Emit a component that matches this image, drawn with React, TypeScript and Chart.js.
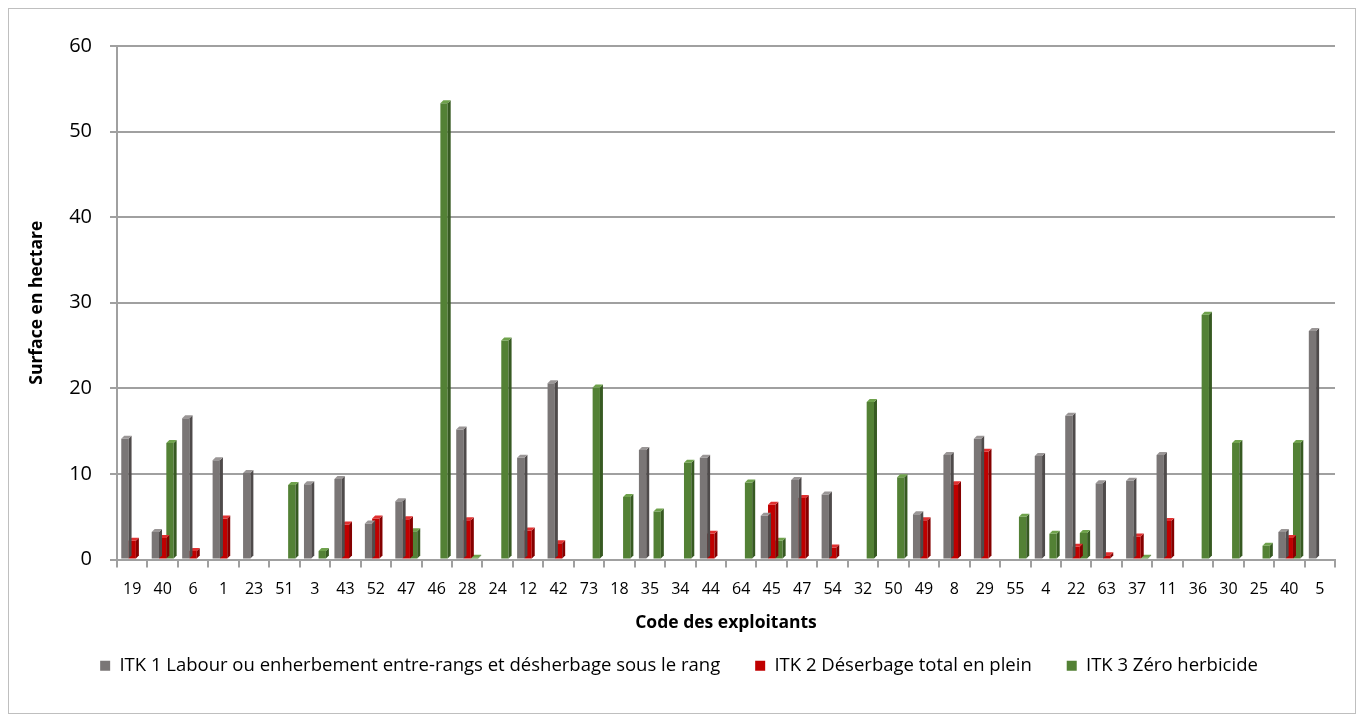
import React, { useEffect, useRef } from "react";
import { Chart, registerables } from "chart.js";

Chart.register(...registerables);

const categories = ["19","40","6","1","23","51","3","43","52","47","46","28","24","12","42","73","18","35","34","44","64","45","47","54","32","50","49","8","29","55","4","22","63","37","11","36","30","25","40","5"];

const itk1: (number | null)[] = [14.1,3.2,16.5,11.6,10.1,null,8.8,9.4,4.2,6.8,null,15.2,null,11.9,20.6,null,null,12.8,null,11.9,null,5.1,9.3,7.6,null,null,5.3,12.2,14.1,null,12.1,16.8,8.9,9.2,12.2,null,null,null,3.2,26.7];
const itk2: (number | null)[] = [2.2,2.5,1.0,4.8,null,null,null,4.1,4.8,4.7,null,4.6,null,3.4,1.9,null,null,null,null,3.0,null,6.4,7.2,1.4,null,null,4.6,8.8,12.6,null,null,1.5,0.5,2.7,4.5,null,null,null,2.5,null];
const itk3: (number | null)[] = [null,13.6,null,null,null,8.7,1.0,null,null,3.3,53.3,0.2,25.6,null,null,20.1,7.3,5.6,11.3,null,9.0,2.2,null,null,18.4,9.6,null,null,null,5.0,3.0,3.1,null,0.2,null,28.6,13.6,1.6,13.6,null];

const seriesLabels = [
  "ITK 1 Labour ou enherbement entre-rangs et désherbage sous le rang",
  "ITK 2 Déserbage total en plein",
  "ITK 3 Zéro herbicide",
];
const yTicks = [0, 10, 20, 30, 40, 50, 60];

const FRONT = ["#7a7676", "#c00000", "#538135"];
const SIDE = ["#4f4b4b", "#850000", "#375a22"];
const TOP = ["#9a9696", "#e03030", "#6fa24c"];

const depthPlugin = {
  id: "depth3d",
  afterDatasetDraw(chart: any, args: any) {
    const i = args.index;
    const ctx = chart.ctx;
    const ds = chart.data.datasets[i];
    const meta = chart.getDatasetMeta(i);
    const d = 3;
    ctx.save();
    meta.data.forEach((bar: any, j: number) => {
      const v = ds.data[j];
      if (v == null) return;
      const p = bar.getProps(["x", "y", "base", "width"], true);
      const l = p.x - p.width / 2;
      const r = p.x + p.width / 2;
      ctx.fillStyle = SIDE[i];
      ctx.beginPath();
      ctx.moveTo(r, p.y);
      ctx.lineTo(r + d, p.y - d);
      ctx.lineTo(r + d, p.base - d);
      ctx.lineTo(r, p.base);
      ctx.closePath();
      ctx.fill();
      ctx.fillStyle = TOP[i];
      ctx.beginPath();
      ctx.moveTo(l, p.y);
      ctx.lineTo(l + d, p.y - d);
      ctx.lineTo(r + d, p.y - d);
      ctx.lineTo(r, p.y);
      ctx.closePath();
      ctx.fill();
    });
    ctx.restore();
  },
};

const FONT = "'Open Sans'";

export default function App() {
  const ref = useRef<HTMLCanvasElement | null>(null);
  useEffect(() => {
    if (!ref.current) return;
    const chart = new Chart(ref.current, {
      type: "bar",
      data: {
        labels: categories,
        datasets: [itk1, itk2, itk3].map((data, i) => ({
          label: seriesLabels[i],
          data,
          backgroundColor: FRONT[i],
          borderWidth: 0,
          categoryPercentage: 0.72,
          barPercentage: 1.0,
        })),
      },
      options: {
        animation: false,
        responsive: true,
        maintainAspectRatio: false,
        layout: { padding: { left: 14, right: 20, top: 37, bottom: 28 } },
        plugins: {
          tooltip: { enabled: false },
          legend: {
            position: "bottom",
            labels: {
              boxWidth: 10,
              boxHeight: 10,
              padding: 35,
              color: "#000",
              font: { family: FONT, size: 18.5 },
            },
          },
        },
        scales: {
          x: {
            offset: true,
            grid: {
              offset: true,
              drawOnChartArea: false,
              drawTicks: true,
              tickLength: 8,
              color: "#a0a0a0",
              lineWidth: 2,
            },
            border: { color: "#a0a0a0", width: 2 },
            ticks: {
              color: "#000",
              font: { family: FONT, size: 16 },
              padding: 12,
              maxRotation: 0,
              autoSkip: false,
            },
            title: {
              display: true,
              text: "Code des exploitants",
              color: "#000",
              font: { family: FONT, size: 17.5, weight: "bold" },
              padding: { top: 0, bottom: -12 },
            },
            afterFit(scale: any) {
              scale.height = 62;
            },
          },
          y: {
            min: 0,
            max: 60,
            afterBuildTicks(scale: any) {
              scale.ticks = yTicks.map((v) => ({ value: v }));
            },
            grid: {
              color: "#a0a0a0",
              lineWidth: 2,
              tickLength: 7,
            },
            border: { color: "#a0a0a0", width: 2 },
            ticks: {
              color: "#000",
              font: { family: FONT, size: 20 },
              padding: 18,
            },
            title: {
              display: true,
              text: "Surface en hectare",
              color: "#000",
              font: { family: FONT, size: 17.5, weight: "bold" },
            },
            afterFit(scale: any) {
              scale.width = 94;
            },
          },
        },
      },
      plugins: [depthPlugin],
    });
    return () => chart.destroy();
  }, []);
  return (
    <div
      style={{
        width: "100%",
        height: 706,
        border: "1px solid #bfbfbf",
        boxSizing: "border-box",
        position: "relative",
      }}
    >
      <canvas ref={ref} />
    </div>
  );
}
